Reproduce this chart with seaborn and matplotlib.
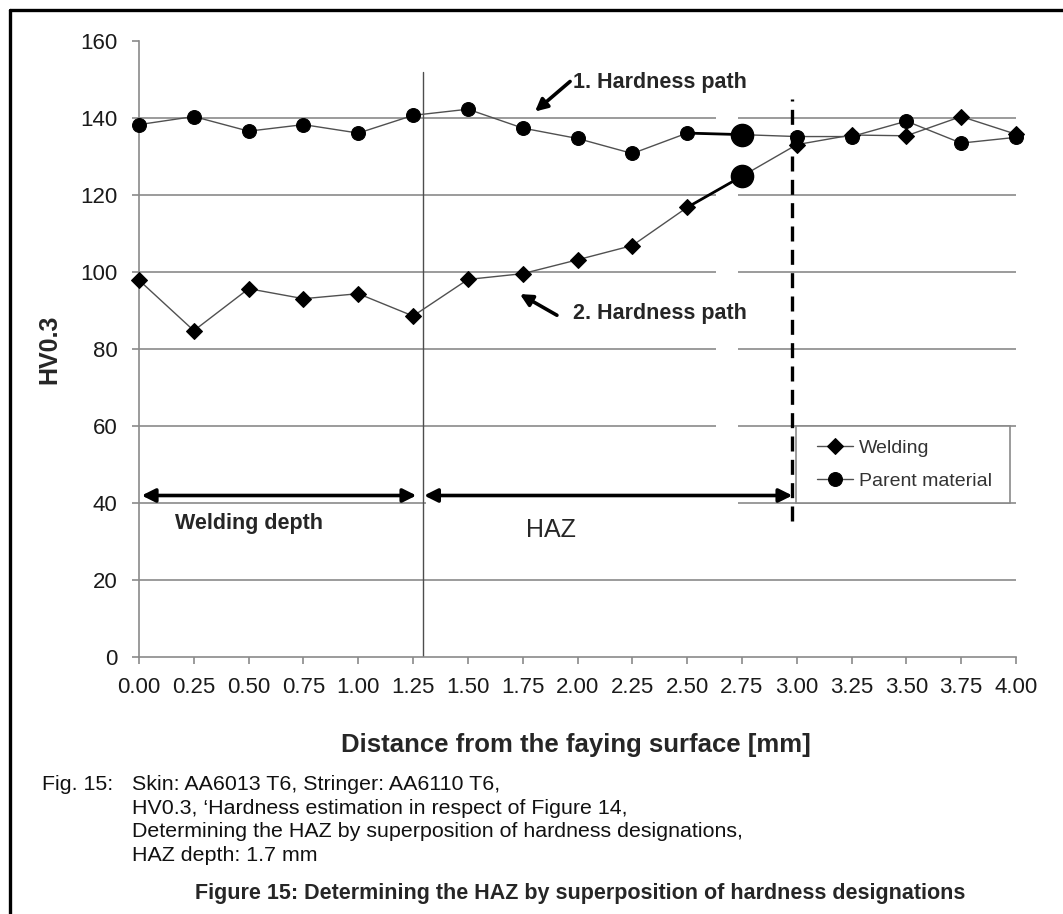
import matplotlib
matplotlib.use("Agg")
import matplotlib.pyplot as plt
from matplotlib.lines import Line2D
from matplotlib.patches import Rectangle
import seaborn as sns
import pandas as pd

# Hardness measurements along the two paths (HV0.3)
distance = [0.00, 0.25, 0.50, 0.75, 1.00, 1.25, 1.50, 1.75, 2.00,
            2.25, 2.50, 2.75, 3.00, 3.25, 3.50, 3.75, 4.00]
welding = [97.9, 84.8, 95.7, 93.1, 94.4, 88.6, 98.1, 99.6, 103.2,
           106.9, 116.8, 124.9, 133.1, 135.6, 135.4, 140.4, 135.8]
parent = [138.3, 140.4, 136.6, 138.3, 136.1, 140.7, 142.3, 137.4, 134.7,
          130.8, 136.1, 135.7, 135.2, 135.2, 139.2, 133.5, 135.0]
series_labels = ["Welding", "Parent material"]
x_ticks = distance
y_ticks = [0, 20, 40, 60, 80, 100, 120, 140, 160]

# Zone boundaries (mm) and the highlighted measurement
weld_depth_end = 1.294
haz_end = 2.98
highlight = 2.75

df = pd.DataFrame({"distance": distance, "welding": welding, "parent": parent})

sns.set_theme(style="white")
plt.rcParams["font.family"] = ["Liberation Sans", "DejaVu Sans"]

fig = plt.figure(figsize=(10.63, 9.14), dpi=100)
ax = fig.add_axes([0.1308, 0.2809, 0.825, 0.6742])

line_col = "#505050"
grid_col = "#8a8a8a"

sns.lineplot(data=df, x="distance", y="welding", ax=ax, color=line_col, lw=1.0,
             marker="D", markersize=8, markerfacecolor="black",
             markeredgecolor="black", label=series_labels[0], clip_on=False,
             zorder=4)
sns.lineplot(data=df, x="distance", y="parent", ax=ax, color=line_col, lw=1.0,
             marker="o", markersize=10, markerfacecolor="black",
             markeredgecolor="black", label=series_labels[1], clip_on=False,
             zorder=4)

# Emphasised step into the 2.75 mm measurement on both paths
hi = distance.index(highlight)
for col in ("welding", "parent"):
    seg = df.iloc[hi - 1:hi + 1]
    ax.plot(seg["distance"], seg[col], color="black", lw=2.0, zorder=5)
    ax.plot([df["distance"][hi]], [df[col][hi]], marker="o", markersize=16,
            color="black", zorder=6)

ax.set_xlim(0, 4)
ax.set_ylim(0, 160)
ax.set_xticks(x_ticks)
ax.set_xticklabels([f"{v:.2f}" for v in x_ticks])
ax.set_yticks(y_ticks)
ax.set_yticklabels([str(v) for v in y_ticks])

# Horizontal grid (none on the top line)
ax.set_axisbelow(True)
for v in y_ticks[1:-1]:
    ax.axhline(v, color=grid_col, lw=1.2, zorder=0.5)

# Gaps in the grid behind the annotations
ax.add_patch(Rectangle((2.63, 35), 0.10, 110, facecolor="white",
                       edgecolor="none", zorder=1))
ax.add_patch(Rectangle((1.31, 38.6), 1.33, 2.8, facecolor="white",
                       edgecolor="none", zorder=1))

for side in ("top", "right"):
    ax.spines[side].set_visible(False)
for side in ("left", "bottom"):
    ax.spines[side].set_color(grid_col)
    ax.spines[side].set_linewidth(1.2)

ax.tick_params(axis="y", direction="out", length=5, width=1.2, color=grid_col,
               pad=10.5, labelsize=16, labelcolor="#1a1a1a", left=True)
ax.tick_params(axis="x", direction="out", length=5, width=1.2, color=grid_col,
               pad=9.5, labelsize=16, labelcolor="#1a1a1a", bottom=True)

ax.set_xlabel("")
ax.set_ylabel("HV0.3", fontsize=18, fontweight="bold")
ax.yaxis.set_label_coords(-0.088, 0.5)

# Zone boundaries
ax.plot([weld_depth_end, weld_depth_end], [0, 152], color="#4d4d4d", lw=1.0,
        zorder=2)
ax.plot([haz_end, haz_end], [35.5, 145], color="black", lw=2.4,
        dashes=(4.5, 2.5), zorder=3)

# Zone arrows
arrow_kw = dict(arrowstyle="<|-|>", lw=2.6, color="black", mutation_scale=20,
                shrinkA=0, shrinkB=0)
ax.annotate("", xy=(1.265, 42), xytext=(0.012, 42), arrowprops=arrow_kw,
            zorder=6)
ax.annotate("", xy=(haz_end, 42), xytext=(weld_depth_end + 0.006, 42),
            arrowprops=arrow_kw, zorder=6)
ax.text(0.164, 34.8, "Welding depth", fontsize=15.5, fontweight="bold",
        ha="left", va="center")
ax.text(1.879, 33.0, "HAZ", fontsize=18, ha="center", va="center")

# Path labels
path_kw = dict(arrowstyle="-|>", lw=2.6, color="black", mutation_scale=18,
               shrinkA=0, shrinkB=0)
ax.annotate("", xy=(1.806, 141.7), xytext=(1.966, 149.5), arrowprops=path_kw)
ax.text(1.979, 149.3, "1. Hardness path", fontsize=15.5, fontweight="bold",
        ha="left", va="center")
ax.annotate("", xy=(1.737, 94.3), xytext=(1.906, 88.8), arrowprops=path_kw)
ax.text(1.979, 89.3, "2. Hardness path", fontsize=15.5, fontweight="bold",
        ha="left", va="center")

# Legend box
ax.add_patch(Rectangle((2.997, 40), 3.973 - 2.997, 20, facecolor="white",
                       edgecolor=grid_col, lw=1.2, zorder=2))
leg = ax.legend(loc="center left", bbox_to_anchor=(3.09, 50),
                bbox_transform=ax.transData, frameon=False, fontsize=14,
                handlelength=1.9, handletextpad=0.3, labelspacing=0.8,
                borderpad=0, borderaxespad=0)
for t in leg.get_texts():
    t.set_color("#333333")
leg.set_zorder(7)

# Axis title and captions
fig.text(0.5419, 1 - 745 / 914, "Distance from the faying surface [mm]",
         fontsize=18.5, fontweight="bold", ha="center", va="center")
cap_kw = dict(fontsize=15.4, ha="left", va="center", color="#111111")
fig.text(42 / 1063, 1 - 785 / 914, "Fig. 15:", **cap_kw)
caption = ["Skin: AA6013 T6, Stringer: AA6110 T6,",
           "HV0.3, \u2018Hardness estimation in respect of Figure 14,",
           "Determining the HAZ by superposition of hardness designations,",
           "HAZ depth: 1.7 mm"]
for i, line in enumerate(caption):
    fig.text(132 / 1063, 1 - (785 + 23.4 * i) / 914, line, **cap_kw)
fig.text(580 / 1063, 1 - 893 / 914,
         "Figure 15: Determining the HAZ by superposition of hardness designations",
         fontsize=15.5, fontweight="bold", ha="center", va="center")

# Page frame
fig.add_artist(Line2D([10 / 1063, 10 / 1063], [0, 1 - 10 / 914],
                      transform=fig.transFigure, color="black", lw=2.4))
fig.add_artist(Line2D([10 / 1063, 1], [1 - 10 / 914, 1 - 10 / 914],
                      transform=fig.transFigure, color="black", lw=2.4))

fig.savefig("out.png", dpi=100, facecolor="white")
